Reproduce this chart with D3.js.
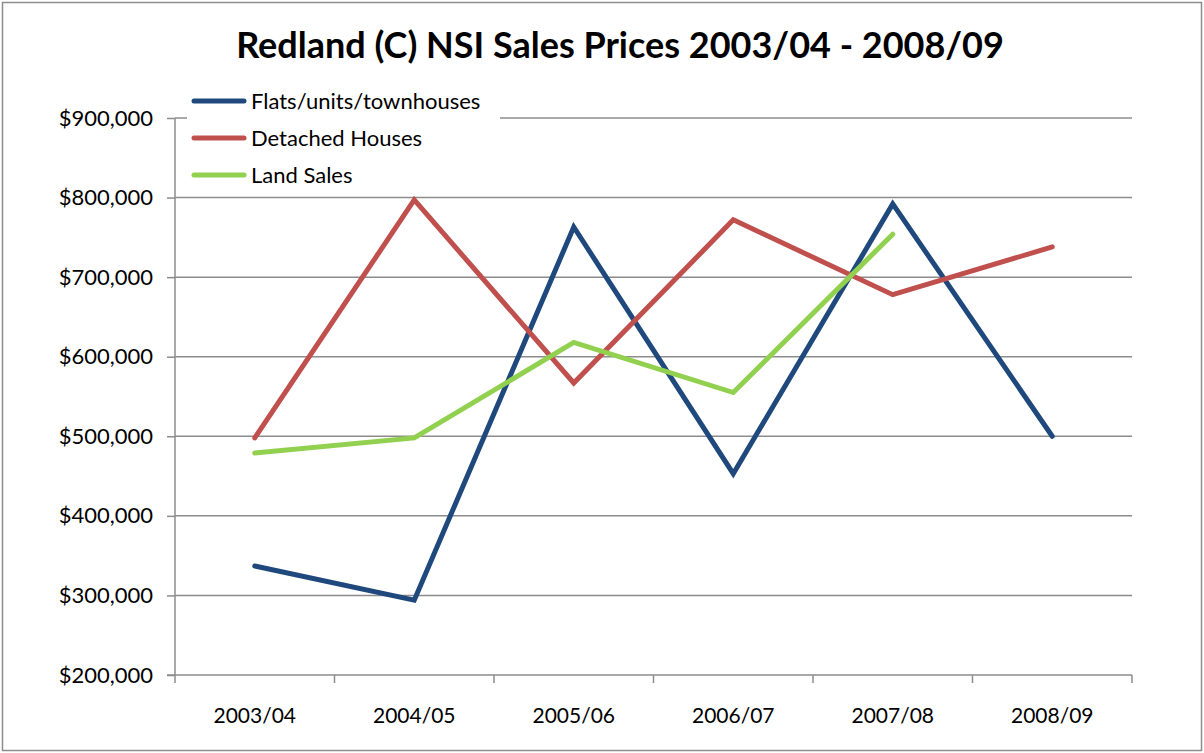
<!DOCTYPE html>
<html>
<head>
<meta charset="utf-8">
<script src="https://cdn.jsdelivr.net/npm/d3@7"></script>
<style>
  body { margin: 0; background: #fff; }
  svg { display: block; }
  text { font-family: Lato, "Open Sans", sans-serif; }
</style>
</head>
<body>
<script>
// data
var years = ["2003/04", "2004/05", "2005/06", "2006/07", "2007/08", "2008/09"];
var flats = [337000, 294000, 763000, 453000, 792000, 500000];
var detached = [498000, 797000, 567000, 772000, 678000, 738000];
var land = [479000, 498000, 618000, 555000, 754000, null];
var seriesNames = ["Flats/units/townhouses", "Detached Houses", "Land Sales"];
var seriesColors = ["#1f497d", "#c0504d", "#92d050"];
var yTicks = [200000, 300000, 400000, 500000, 600000, 700000, 800000, 900000];

var width = 1204, height = 753;
var plotL = 175, plotR = 1132, plotT = 118, plotB = 675;
var fs = "21px";

var svg = d3.select("body").append("svg")
	.attr("width", width)
	.attr("height", height);

// outer frame
svg.append("rect")
	.attr("x", 2.5).attr("y", 2.5)
	.attr("width", width - 5).attr("height", height - 5)
	.attr("fill", "white")
	.attr("stroke", "#8c8c8c")
	.attr("stroke-width", 1.5);

var x = d3.scaleBand().domain(years).range([plotL, plotR]);
var y = d3.scaleLinear().domain([200000, 900000]).range([plotB, plotT]);

// gridlines
svg.append("g").selectAll("line")
	.data(yTicks.slice(1))
	.enter().append("line")
	.attr("x1", plotL).attr("x2", plotR)
	.attr("y1", d => y(d)).attr("y2", d => y(d))
	.attr("stroke", "#8c8c8c")
	.attr("stroke-width", 1.5);

// y axis
var yAxis = svg.append("g")
	.attr("transform", "translate(" + plotL + ",0)")
	.call(d3.axisLeft(y).tickValues(yTicks).tickSize(8).tickPadding(14)
		.tickFormat(d => "$" + d3.format(",")(d)));
yAxis.selectAll("text").attr("font-size", "22px").attr("fill", "#000")
	.attr("font-family", "Lato, sans-serif");
yAxis.selectAll("line").attr("stroke", "#8c8c8c").attr("stroke-width", 1.5);
yAxis.select(".domain").attr("stroke", "#8c8c8c").attr("stroke-width", 1.5)
	.attr("d", "M0," + plotT + "V" + plotB);

// x axis: ticks at band edges
var xg = svg.append("g").attr("transform", "translate(0," + plotB + ")");
xg.append("line")
	.attr("x1", plotL - 8).attr("x2", plotR)
	.attr("stroke", "#8c8c8c").attr("stroke-width", 1.5);
var edges = years.map(d => x(d)).concat([plotR]);
xg.selectAll("line.tk").data(edges).enter().append("line")
	.attr("class", "tk")
	.attr("x1", d => d).attr("x2", d => d)
	.attr("y1", 0).attr("y2", 8)
	.attr("stroke", "#8c8c8c").attr("stroke-width", 1.5);
xg.selectAll("text").data(years).enter().append("text")
	.attr("x", d => x(d) + x.bandwidth() / 2)
	.attr("y", 48)
	.attr("text-anchor", "middle")
	.attr("font-size", fs)
	.text(d => d);

// lines
var allSeries = [flats, detached, land];
var line = d3.line()
	.defined(d => d != null)
	.x((d, i) => x(years[i]) + x.bandwidth() / 2)
	.y(d => y(d));

allSeries.forEach(function(s, k) {
	svg.append("path")
		.datum(s)
		.attr("d", line)
		.attr("fill", "none")
		.attr("stroke", seriesColors[k])
		.attr("stroke-width", 5)
		.attr("stroke-linejoin", "miter")
		.attr("stroke-linecap", "round");
});

// legend
var lg = svg.append("g");
lg.append("rect")
	.attr("x", 187).attr("y", 84)
	.attr("width", 313).attr("height", 110)
	.attr("fill", "white");
seriesNames.forEach(function(name, k) {
	var ly = 101 + k * 37;
	lg.append("line")
		.attr("x1", 194).attr("x2", 244)
		.attr("y1", ly).attr("y2", ly)
		.attr("stroke", seriesColors[k])
		.attr("stroke-width", 5)
		.attr("stroke-linecap", "round");
	lg.append("text")
		.attr("x", 251).attr("y", ly + 7.5)
		.attr("font-size", "22px")
		.text(name);
});

// title
svg.append("text")
	.attr("x", 620).attr("y", 58)
	.attr("text-anchor", "middle")
	.attr("font-size", "36px")
	.attr("font-weight", "bold")
	.text("Redland (C) NSI Sales Prices 2003/04 - 2008/09");
</script>
</body>
</html>
